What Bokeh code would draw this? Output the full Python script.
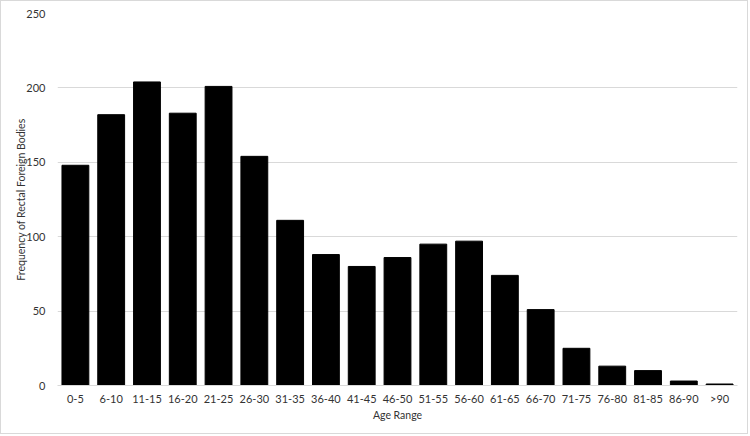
from bokeh.plotting import figure
from bokeh.models import FactorRange, Range1d, SingleIntervalTicker
from bokeh.embed import file_html
from bokeh.resources import INLINE

categories = ["0-5", "6-10", "11-15", "16-20", "21-25", "26-30", "31-35", "36-40",
              "41-45", "46-50", "51-55", "56-60", "61-65", "66-70", "71-75", "76-80",
              "81-85", "86-90", ">90"]
frequency = [148, 182, 204, 183, 201, 154, 111, 88, 80, 86, 95, 97, 74, 51, 25, 13, 10, 3, 1]

FONT = "Lato"
TEXT = "#333333"

p = figure(x_range=FactorRange(*categories, range_padding=0), y_range=Range1d(0, 250),
           width=748, height=434, output_backend="svg", toolbar_location=None,
           min_border_left=56, min_border_right=12, min_border_top=12, min_border_bottom=50)
p.styles = {"border": "1px solid #d9d9d9"}

p.vbar(x=categories, top=frequency, width=0.75, fill_color="black", line_color="black")

p.outline_line_color = None
p.border_fill_color = "white"
p.background_fill_color = "white"

p.xgrid.grid_line_color = None
p.ygrid.grid_line_color = "#d9d9d9"
p.ygrid.grid_line_width = 1

p.yaxis.ticker = SingleIntervalTicker(interval=50)
p.yaxis.axis_line_color = None
p.yaxis.major_tick_line_color = None
p.yaxis.minor_tick_line_color = None
p.xaxis.axis_line_color = "#d9d9d9"
p.xaxis.major_tick_line_color = None
p.xaxis.minor_tick_line_color = None

for ax in (p.xaxis, p.yaxis):
    ax.major_label_text_font = FONT
    ax.major_label_text_font_size = "11px"
    ax.major_label_text_color = TEXT
    ax.axis_label_text_font = FONT
    ax.axis_label_text_font_size = "10.5px"
    ax.axis_label_text_font_style = "normal"
    ax.axis_label_text_color = TEXT

p.xaxis.axis_label = "Age Range"
p.yaxis.axis_label = "Frequency of Rectal Foreign Bodies"
p.xaxis.major_label_standoff = 0
p.yaxis.major_label_standoff = 6
p.xaxis.axis_label_standoff = 1
p.yaxis.axis_label_standoff = -4

open("out.html", "w").write(file_html(p, INLINE))
